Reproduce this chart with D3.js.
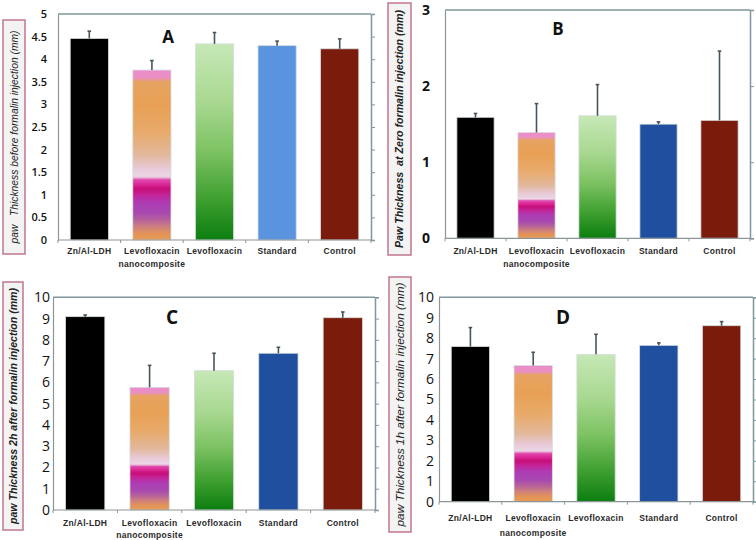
<!DOCTYPE html>
<html><head><meta charset="utf-8">
<script src="https://cdn.jsdelivr.net/npm/d3@7"></script>
<style>
html,body{margin:0;padding:0;background:#fff;}
svg{display:block;}
</style></head>
<body>
<svg id="chart" width="756" height="540"></svg>
<script>
// ---------- data ----------
const categories = ["Zn/Al-LDH", "Levofloxacin|nanocomposite", "Levofloxacin", "Standard", "Control"];

const valuesA = [4.46, 3.76, 4.34, 4.30, 4.23];
const errorsA = [0.16, 0.21, 0.25, 0.10, 0.22];
const ticksA  = [0, 0.5, 1, 1.5, 2, 2.5, 3, 3.5, 4, 4.5, 5];

const valuesB = [1.59, 1.39, 1.61, 1.50, 1.55];
const errorsB = [0.05, 0.38, 0.41, 0.03, 0.91];
const ticksB  = [0, 1, 2, 3];

const valuesC = [9.09, 5.77, 6.55, 7.37, 9.04];
const errorsC = [0.08, 1.03, 0.82, 0.28, 0.27];
const ticksC  = [0, 1, 2, 3, 4, 5, 6, 7, 8, 9, 10];

const valuesD = [7.59, 6.66, 7.21, 7.65, 8.61];
const errorsD = [0.93, 0.65, 0.98, 0.12, 0.20];
const ticksD  = [0, 1, 2, 3, 4, 5, 6, 7, 8, 9, 10];

const panelLetters = ["A", "B", "C", "D"];
const yTitles = [
  "paw   Thickness before formalin injection (mm)",
  "Paw Thickness  at Zero formalin injection (mm)",
  "paw Thickness 2h after formalin injection (mm)",
  "paw Thickness 1h after formalin injection (mm)"
];

// ---------- layout / style ----------
const panels = [
  {values: valuesA, errors: errorsA, ticks: ticksA, max: 5,  x0: 58,  x1: 371, y0: 240,   y1: 14,
   letter: [168, 43], box: [3, 20, 22, 234], titleLen: 213, titleFs: 10.5, titleW: "normal",
   tickFs: 11, tickW: 600, tickGap: 11, lab1: 254, lab2: 266.5, standard: "#5a94de"},
  {values: valuesB, errors: errorsB, ticks: ticksB, max: 3,  x0: 445, x1: 750, y0: 238.3, y1: 10,
   letter: [558, 35], box: [388, 3, 23, 252], titleLen: 238, titleFs: 10, titleW: "600",
   tickFs: 14, tickW: 700, tickGap: 15, lab1: 254, lab2: 267, standard: "#1f4f9e"},
  {values: valuesC, errors: errorsC, ticks: ticksC, max: 10, x0: 53,  x1: 375, y0: 510,   y1: 297.3,
   letter: [172, 323.5], box: [3, 282, 20, 248], titleLen: 236, titleFs: 10, titleW: "600",
   tickFs: 14, tickW: 400, tickGap: 3, lab1: 525.5, lab2: 538, standard: "#1f4f9e"},
  {values: valuesD, errors: errorsD, ticks: ticksD, max: 10, x0: 439, x1: 753, y0: 501.7, y1: 297.3,
   letter: [563, 323.5], box: [389, 277, 22, 255], titleLen: 244, titleFs: 10.5, titleW: "normal",
   tickFs: 14, tickW: 400, tickGap: 5, lab1: 520.5, lab2: 535.5, standard: "#1f4f9e"}
];

const svg = d3.select("#chart");
const defs = svg.append("defs");

// nanocomposite multi-stripe gradient
const nano = defs.append("linearGradient").attr("id", "nanoGrad")
  .attr("x1", 0).attr("y1", 0).attr("x2", 0).attr("y2", 1);
[
  [0, "#ec8ccb"], [0.045, "#ea90c2"], [0.07, "#e6a462"], [0.2, "#e8a055"],
  [0.36, "#e8aa6a"], [0.5, "#e2b89c"], [0.58, "#e8cad8"], [0.625, "#ecd6e6"],
  [0.635, "#e6a8d0"], [0.645, "#e04cae"], [0.67, "#dc2a98"], [0.7, "#c60e78"],
  [0.735, "#c42498"], [0.78, "#ae3cb4"], [0.84, "#a848b0"], [0.88, "#b4609c"],
  [0.92, "#cc7e80"], [0.96, "#e2925a"], [1, "#e89c52"]
].forEach(([o, c]) => nano.append("stop").attr("offset", o).attr("stop-color", c));

const green = defs.append("linearGradient").attr("id", "greenGrad")
  .attr("x1", 0).attr("y1", 0).attr("x2", 0).attr("y2", 1);
[[0, "#c6e8b6"], [0.3, "#a8d890"], [0.55, "#7cc262"], [0.8, "#3c9e2e"], [1, "#0c7e10"]]
  .forEach(([o, c]) => green.append("stop").attr("offset", o).attr("stop-color", c));

const frameColor = "#7f979d";
const axisColor = "#8d9598";

panels.forEach((p, pi) => {
  const g = svg.append("g");
  const x = d3.scaleBand().domain(categories).range([p.x0, p.x1])
    .paddingInner(0.39).paddingOuter(0.195);
  const y = d3.scaleLinear().domain([0, p.max]).range([p.y0, p.y1]);
  const fills = ["#000000", "url(#nanoGrad)", "url(#greenGrad)", p.standard, "#7a1b0c"];

  // y-title box
  const [bx, by, bw, bh] = p.box;
  g.append("rect").attr("x", bx).attr("y", by).attr("width", bw).attr("height", bh)
    .attr("fill", "#f3f3f3").attr("stroke", "#c2768f").attr("stroke-width", 1.5);
  g.append("text")
    .attr("transform", `translate(${bx + bw / 2 + p.titleFs * 0.36},${by + bh / 2}) rotate(-90)`)
    .attr("text-anchor", "middle")
    .attr("textLength", p.titleLen).attr("lengthAdjust", "spacingAndGlyphs")
    .style("white-space", "pre")
    .attr("font-family", "Liberation Sans, Arial, sans-serif")
    .attr("font-style", "italic").attr("font-weight", p.titleW)
    .attr("font-size", p.titleFs).attr("fill", "#222")
    .text(yTitles[pi]);

  // frame (top + right axis)
  g.append("line").attr("x1", p.x0).attr("x2", p.x1).attr("y1", p.y1).attr("y2", p.y1)
    .attr("stroke", frameColor).attr("stroke-width", 1.5);
  const right = d3.axisRight(y).tickValues(p.ticks).tickSize(4).tickFormat("");
  const ra = g.append("g").attr("transform", `translate(${p.x1},0)`).call(right);
  ra.select(".domain").attr("stroke", frameColor).attr("stroke-width", 1.5);
  ra.selectAll(".tick line").attr("stroke", frameColor);

  // left axis
  const left = d3.axisLeft(y).tickValues(p.ticks).tickSize(0).tickPadding(p.tickGap)
    .tickFormat(d => String(d));
  const la = g.append("g").attr("transform", `translate(${p.x0},0)`).call(left);
  la.select(".domain").attr("stroke", axisColor).attr("stroke-width", 1.2);
  la.selectAll(".tick text")
    .attr("font-family", "Open Sans, Liberation Sans, sans-serif")
    .attr("font-size", p.tickFs).attr("font-weight", p.tickW).attr("fill", "#111");

  // bars
  g.selectAll("rect.bar").data(p.values).join("rect").attr("class", "bar")
    .attr("x", (d, i) => x(categories[i]))
    .attr("width", x.bandwidth())
    .attr("y", d => y(d))
    .attr("height", d => y(0) - y(d))
    .attr("fill", (d, i) => fills[i])
    .attr("stroke", "#d6dede").attr("stroke-width", 0.8);

  // error bars (upper only)
  const eg = g.selectAll("g.err").data(p.values).join("g").attr("class", "err")
    .attr("stroke", "#46555b").attr("stroke-width", 1.6);
  eg.append("line")
    .attr("x1", (d, i) => x(categories[i]) + x.bandwidth() / 2)
    .attr("x2", (d, i) => x(categories[i]) + x.bandwidth() / 2)
    .attr("y1", d => y(d))
    .attr("y2", (d, i) => y(d + p.errors[i]));
  eg.append("line")
    .attr("x1", (d, i) => x(categories[i]) + x.bandwidth() / 2 - 1.8)
    .attr("x2", (d, i) => x(categories[i]) + x.bandwidth() / 2 + 1.8)
    .attr("y1", (d, i) => y(d + p.errors[i]))
    .attr("y2", (d, i) => y(d + p.errors[i]));

  // bottom axis
  g.append("line").attr("x1", p.x0).attr("x2", p.x1).attr("y1", p.y0).attr("y2", p.y0)
    .attr("stroke", axisColor).attr("stroke-width", 1.2);
  const bounds = categories.map(c => x(c) - x.step() * x.paddingInner() / 2)
    .concat([x(categories[4]) + x.bandwidth() + x.step() * x.paddingInner() / 2]);
  g.selectAll("line.bt").data(bounds).join("line").attr("class", "bt")
    .attr("x1", d => d).attr("x2", d => d).attr("y1", p.y0).attr("y2", p.y0 + 3)
    .attr("stroke", axisColor);

  // category labels
  categories.forEach(c => {
    const parts = c.split("|");
    parts.forEach((t, k) => {
      g.append("text")
        .attr("x", x(c) + x.bandwidth() / 2)
        .attr("y", k === 0 ? p.lab1 : p.lab2)
        .attr("text-anchor", "middle")
        .attr("font-family", "Liberation Sans, Arial, sans-serif")
        .attr("font-size", 8.5).attr("font-weight", 700)
        .attr("letter-spacing", 0.3).attr("fill", "#2a2a2a")
        .text(t);
    });
  });

  // panel letter
  g.append("text").attr("x", p.letter[0]).attr("y", p.letter[1])
    .attr("text-anchor", "middle")
    .attr("font-family", "Open Sans, Liberation Sans, sans-serif")
    .attr("font-size", pi < 2 ? 17 : 19).attr("font-weight", 700).attr("fill", "#111")
    .text(panelLetters[pi]);
});
</script>
</body></html>
